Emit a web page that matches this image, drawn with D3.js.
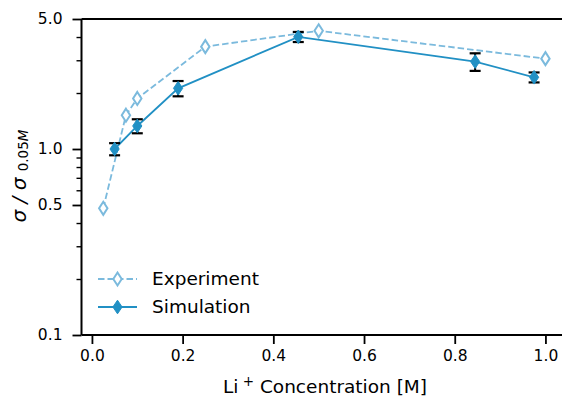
<!DOCTYPE html>
<html><head><meta charset="utf-8">
<script src="https://cdn.jsdelivr.net/npm/d3@7"></script>
<style>
html,body{margin:0;padding:0;background:#fff;}
svg text{font-family:"DejaVu Sans",sans-serif;fill:#000;}
</style></head>
<body>
<svg id="c" width="562" height="396"></svg>
<script>
// ---- data ----
const expX = [0.025, 0.075, 0.1, 0.25, 0.5, 1.0];
const expY = [0.48, 1.52, 1.87, 3.55, 4.32, 3.06];
const simX = [0.05, 0.1, 0.19, 0.455, 0.845, 0.975];
const simY = [1.0, 1.33, 2.12, 4.01, 2.95, 2.43];
const simErr = [0.075, 0.115, 0.2, 0.25, 0.32, 0.15];
const xTicks = [0.0, 0.2, 0.4, 0.6, 0.8, 1.0];
const yTicks = [0.1, 0.5, 1.0, 5.0];
const yMinor = [0.2, 0.3, 0.4, 0.6, 0.7, 0.8, 0.9, 2, 3, 4];
const seriesNames = ["Experiment", "Simulation"];
const expColor = "#7bbadd";
const simColor = "#2190c4";

(function(){
const svg = d3.select("#c");
const pLeft = 81.5, pTop = 19, pBottom = 335;
const x = d3.scaleLinear().domain([-0.023, 1.045]).range([pLeft, pLeft + 1.068 * 453.5]);
const y = d3.scaleLog().domain([0.1, 5]).range([pBottom, pTop]);

// axes
const xAxis = d3.axisBottom(x).tickValues(xTicks).tickFormat(d3.format(".1f")).tickSize(9).tickPadding(6);
const gx = svg.append("g").attr("transform", `translate(0,${pBottom})`).call(xAxis);
gx.selectAll("text").attr("font-size", 15.5).attr("dy", "0.71em");
gx.select(".domain").attr("stroke-width", 2).attr("d", `M${pLeft},0H${x.range()[1]}`);
gx.selectAll(".tick line").attr("stroke-width", 1.8);

const yAxis = d3.axisLeft(y).tickValues(yTicks).tickFormat(d3.format(".1f")).tickSize(9).tickPadding(10);
const gy = svg.append("g").attr("transform", `translate(${pLeft},0)`).call(yAxis);
gy.selectAll("text").attr("font-size", 15.5);
gy.select(".domain").attr("stroke-width", 2).attr("d", `M0,${pTop}V${pBottom}`);
gy.selectAll(".tick line").attr("stroke-width", 1.8);
const gym = svg.append("g").attr("transform", `translate(${pLeft},0)`).call(d3.axisLeft(y).tickValues(yMinor).tickFormat("").tickSize(5));
gym.select(".domain").remove();
gym.selectAll(".tick line").attr("stroke-width", 1.4);

// top spine
svg.append("line").attr("x1", pLeft).attr("x2", 562).attr("y1", pTop).attr("y2", pTop)
  .attr("stroke", "#000").attr("stroke-width", 2);

const diamond = (cx, cy, w, h) => `M${cx},${cy - h}L${cx + w},${cy}L${cx},${cy + h}L${cx - w},${cy}Z`;

// experiment
const expPts = expX.map((v, i) => [v, expY[i]]);
const line = d3.line().x(d => x(d[0])).y(d => y(d[1]));
svg.append("path").attr("d", line(expPts)).attr("fill", "none")
  .attr("stroke", expColor).attr("stroke-width", 1.8).attr("stroke-dasharray", "6.5,3");
svg.selectAll(".em").data(expPts).enter().append("path")
  .attr("d", d => diamond(x(d[0]), y(d[1]), 4.2, 6.5))
  .attr("fill", "#fff").attr("stroke", expColor).attr("stroke-width", 2);

// simulation
const simPts = simX.map((v, i) => [v, simY[i], simErr[i]]);
svg.append("path").attr("d", line(simPts)).attr("fill", "none")
  .attr("stroke", simColor).attr("stroke-width", 1.8);
const eb = svg.selectAll(".eb").data(simPts).enter().append("g");
eb.append("line").attr("x1", d => x(d[0])).attr("x2", d => x(d[0]))
  .attr("y1", d => y(d[1] + d[2])).attr("y2", d => y(d[1] - d[2]))
  .attr("stroke", "#000").attr("stroke-width", 2);
eb.append("line").attr("x1", d => x(d[0]) - 5.5).attr("x2", d => x(d[0]) + 5.5)
  .attr("y1", d => y(d[1] + d[2])).attr("y2", d => y(d[1] + d[2]))
  .attr("stroke", "#000").attr("stroke-width", 2.2);
eb.append("line").attr("x1", d => x(d[0]) - 5.5).attr("x2", d => x(d[0]) + 5.5)
  .attr("y1", d => y(d[1] - d[2])).attr("y2", d => y(d[1] - d[2]))
  .attr("stroke", "#000").attr("stroke-width", 2.2);
svg.selectAll(".sm").data(simPts).enter().append("path")
  .attr("d", d => diamond(x(d[0]), y(d[1]), 4.6, 6.8))
  .attr("fill", simColor).attr("stroke", simColor).attr("stroke-width", 1);

// legend
const lg = svg.append("g");
const rows = [{n: seriesNames[0], c: expColor, dash: "6.5,3", fill: "#fff", yy: 279},
              {n: seriesNames[1], c: simColor, dash: null, fill: simColor, yy: 307}];
rows.forEach(r => {
  const open = r.fill === "#fff";
  lg.append("line").attr("x1", 98).attr("x2", 137).attr("y1", r.yy).attr("y2", r.yy)
    .attr("stroke", r.c).attr("stroke-width", 1.8).attr("stroke-dasharray", r.dash);
  lg.append("path").attr("d", diamond(117.5, r.yy, open ? 4.2 : 4.6, open ? 6.5 : 6.8))
    .attr("fill", r.fill).attr("stroke", r.c).attr("stroke-width", open ? 2 : 1);
  lg.append("text").attr("x", 152).attr("y", r.yy).attr("dy", "0.35em")
    .attr("font-size", 18.5).text(r.n);
});

// x label
const xl = svg.append("text").attr("x", 325).attr("y", 393).attr("text-anchor", "middle").attr("font-size", 18.5);
xl.append("tspan").text("Li");
xl.append("tspan").attr("dy", -7).attr("font-size", 13.5).text(" +");
xl.append("tspan").attr("dy", 7).text(" Concentration [M]");

// y label
const yl = svg.append("text").attr("transform", "translate(26,176) rotate(-90)")
  .attr("text-anchor", "middle").attr("font-size", 20);
yl.append("tspan").attr("font-style", "italic").text("σ / σ ");
yl.append("tspan").attr("font-size", 13.5).attr("dy", 2).text("0.05");
yl.append("tspan").attr("font-size", 13.5).attr("font-style", "italic").text("M");
})();
</script>
</body></html>
